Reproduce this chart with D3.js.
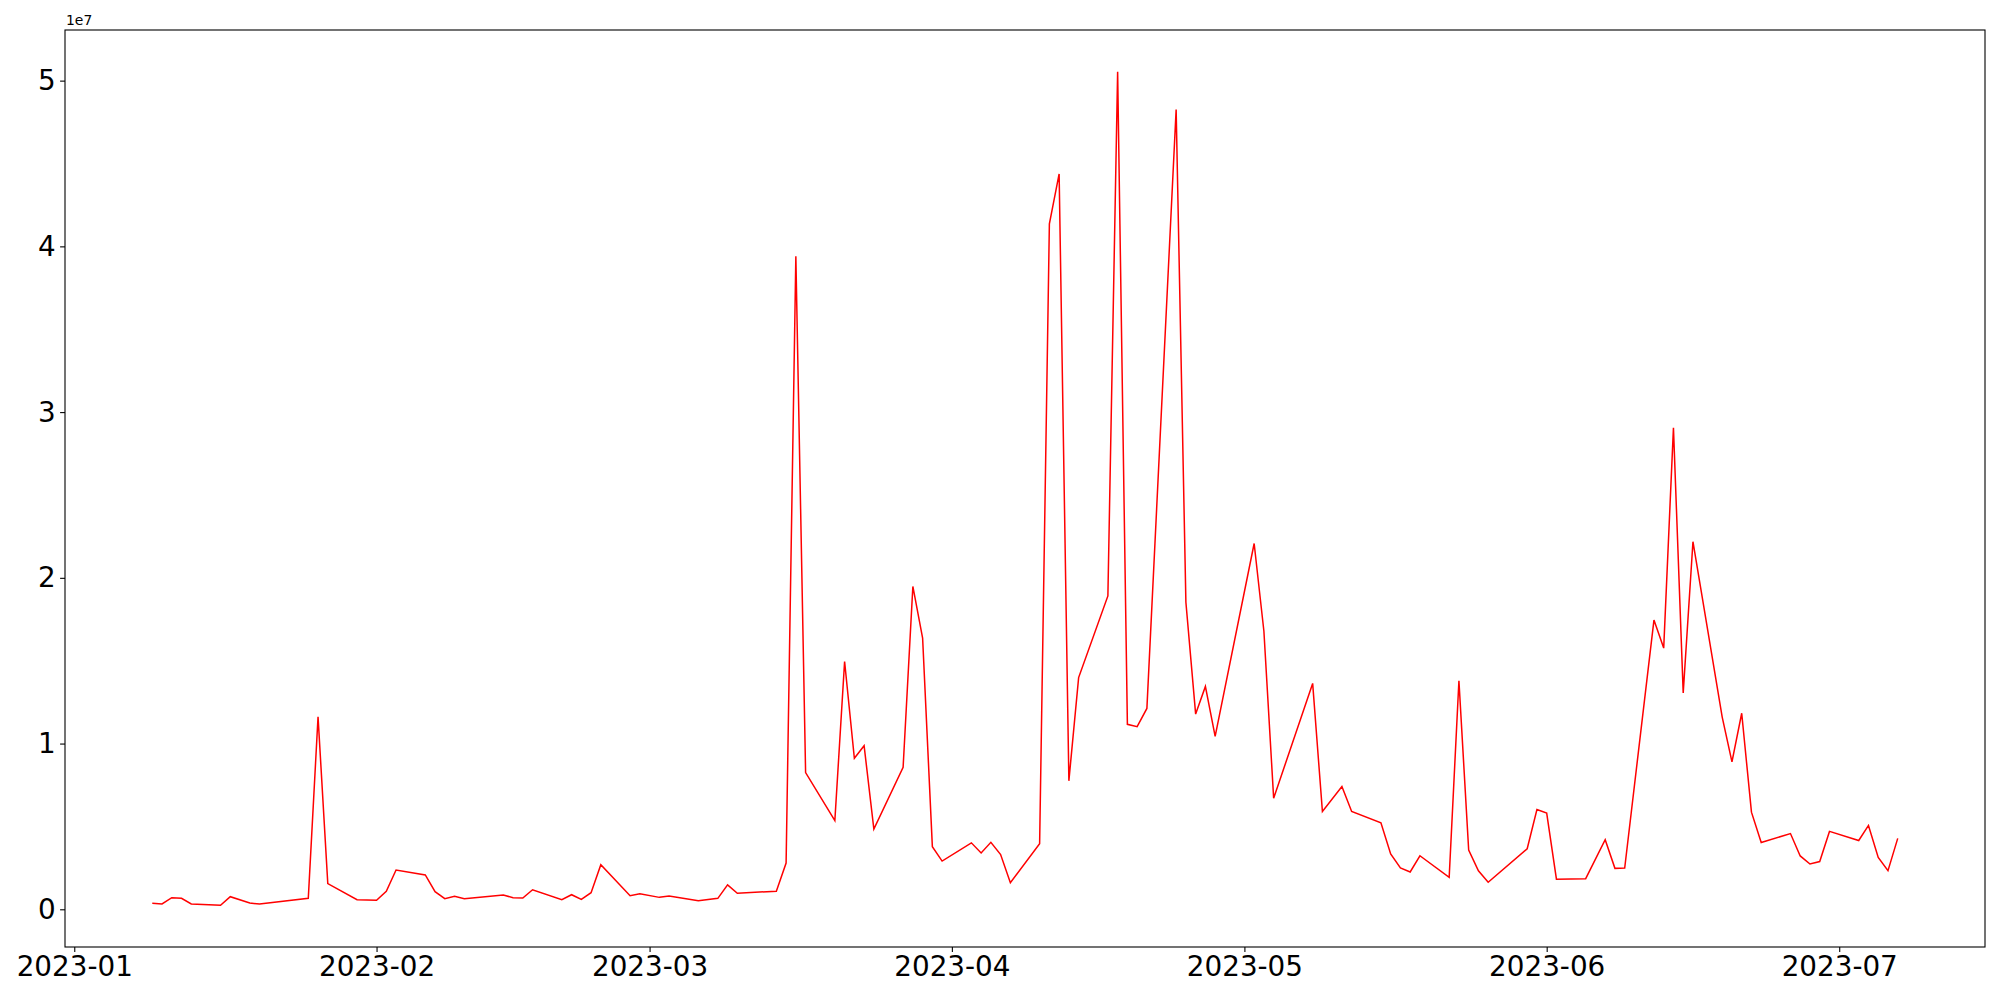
<!DOCTYPE html>
<html>
<head>
<meta charset="utf-8">
<script src="https://cdn.jsdelivr.net/npm/d3@7"></script>
<style>
  body { margin: 0; background: #fff; }
  svg { display: block; font-family: "DejaVu Sans", sans-serif; }
</style>
</head>
<body>
<div id="chart"></div>
<script>
// daily values, trading days only
const dates = [
  "2023-01-09","2023-01-10","2023-01-11","2023-01-12","2023-01-13","2023-01-16","2023-01-17","2023-01-19","2023-01-20",
  "2023-01-25","2023-01-26","2023-01-27","2023-01-30","2023-02-01","2023-02-02","2023-02-03","2023-02-06","2023-02-07",
  "2023-02-08","2023-02-09","2023-02-10","2023-02-14","2023-02-15","2023-02-16","2023-02-17","2023-02-20","2023-02-21",
  "2023-02-22","2023-02-23","2023-02-24","2023-02-27","2023-02-28","2023-03-02","2023-03-03","2023-03-06","2023-03-08",
  "2023-03-09","2023-03-10","2023-03-14","2023-03-15","2023-03-16","2023-03-17","2023-03-20","2023-03-21","2023-03-22",
  "2023-03-23","2023-03-24","2023-03-27","2023-03-28","2023-03-29","2023-03-30","2023-03-31","2023-04-03","2023-04-04",
  "2023-04-05","2023-04-06","2023-04-07","2023-04-10","2023-04-11","2023-04-12","2023-04-13","2023-04-14","2023-04-17",
  "2023-04-18","2023-04-19","2023-04-20","2023-04-21","2023-04-24","2023-04-25","2023-04-26","2023-04-27","2023-04-28",
  "2023-05-02","2023-05-03","2023-05-04","2023-05-08","2023-05-09","2023-05-11","2023-05-12","2023-05-15","2023-05-16",
  "2023-05-17","2023-05-18","2023-05-19","2023-05-22","2023-05-23","2023-05-24","2023-05-25","2023-05-26","2023-05-30",
  "2023-05-31","2023-06-01","2023-06-02","2023-06-05","2023-06-07","2023-06-08","2023-06-09","2023-06-12","2023-06-13",
  "2023-06-14","2023-06-15","2023-06-16","2023-06-19","2023-06-20","2023-06-21","2023-06-22","2023-06-23","2023-06-26",
  "2023-06-27","2023-06-28","2023-06-29","2023-06-30","2023-07-03","2023-07-04","2023-07-05","2023-07-06","2023-07-07"
];
const values = [
  360000, 320000, 700000, 660000, 320000, 240000, 760000, 380000, 320000,
  660000, 11620000, 1550000, 580000, 540000, 1090000, 2370000, 2070000, 1060000,
  640000, 780000, 640000, 860000, 700000, 680000, 1180000, 580000, 880000,
  600000, 1000000, 2690000, 820000, 940000, 720000, 800000, 520000, 660000,
  1470000, 970000, 1090000, 2790000, 39400000, 8250000, 5350000, 14950000, 9110000,
  9870000, 4840000, 8570000, 19480000, 16370000, 3780000, 2910000, 4010000, 3400000,
  4040000, 3300000, 1600000, 3960000, 41360000, 44370000, 7750000, 13980000, 18910000,
  50540000, 11160000, 11020000, 12120000, 48260000, 18530000, 11780000, 13450000, 10430000,
  22070000, 16780000, 6700000, 13630000, 5900000, 7410000, 5900000, 5220000, 3340000,
  2500000, 2250000, 3230000, 1930000, 13790000, 3570000, 2320000, 1630000, 3650000,
  6020000, 5800000, 1820000, 1850000, 4200000, 2470000, 2490000, 17450000, 15760000,
  29060000, 13060000, 22180000, 11600000, 8890000, 11830000, 5860000, 4030000, 4570000,
  3220000, 2730000, 2880000, 4700000, 4150000, 5060000, 3130000, 2330000, 4280000
];
const yTicks = [0, 1e7, 2e7, 3e7, 4e7, 5e7];
const yTickLabels = ["0", "1", "2", "3", "4", "5"];
const xTicks = ["2023-01-01","2023-02-01","2023-03-01","2023-04-01","2023-05-01","2023-06-01","2023-07-01"];
const xTickLabels = ["2023-01","2023-02","2023-03","2023-04","2023-05","2023-06","2023-07"];

// set the dimensions and margins of the graph
const margin = { top: 30, right: 15, bottom: 53, left: 65 },
    width = 2000 - margin.left - margin.right,
    height = 1000 - margin.top - margin.bottom;

const svg = d3.select("#chart")
    .append("svg")
    .attr("width", 2000)
    .attr("height", 1000)
    .append("g")
    .attr("transform", `translate(${margin.left}, ${margin.top})`);

const parse = d3.utcParse("%Y-%m-%d");
const data = dates.map((d, i) => ({ date: parse(d), value: values[i] }));

// matplotlib-like 5% padding on both axes
const xExt = d3.extent(data, d => d.date);
const xPad = (xExt[1] - xExt[0]) * 0.05;
const x = d3.scaleUtc()
    .domain([new Date(+xExt[0] - xPad), new Date(+xExt[1] + xPad)])
    .range([0, width]);

const yExt = d3.extent(data, d => d.value);
const yPad = (yExt[1] - yExt[0]) * 0.05;
const y = d3.scaleLinear()
    .domain([yExt[0] - yPad, yExt[1] + yPad])
    .range([height, 0]);

// axes
const xAxis = svg.append("g")
    .attr("transform", `translate(0, ${height})`)
    .call(d3.axisBottom(x)
        .tickValues(xTicks.map(parse))
        .tickFormat((d, i) => xTickLabels[i])
        .tickSize(4.9)
        .tickPadding(4.5));

const yAxis = svg.append("g")
    .call(d3.axisLeft(y)
        .tickValues(yTicks)
        .tickFormat((d, i) => yTickLabels[i])
        .tickSize(4.9)
        .tickPadding(4.5));

[xAxis, yAxis].forEach(g => {
    g.select(".domain").remove();
    g.selectAll(".tick line").attr("stroke", "#000").attr("stroke-width", 1.1);
    g.selectAll(".tick text")
        .attr("fill", "#000")
        .attr("font-size", "27.8px")
        .attr("font-family", "DejaVu Sans, sans-serif");
});

// the line
svg.append("path")
    .datum(data)
    .attr("fill", "none")
    .attr("stroke", "red")
    .attr("stroke-width", 1.5)
    .attr("stroke-linejoin", "miter")
    .attr("d", d3.line()
        .x(d => x(d.date))
        .y(d => y(d.value)));

// frame
svg.append("rect")
    .attr("x", 0)
    .attr("y", 0)
    .attr("width", width)
    .attr("height", height)
    .attr("fill", "none")
    .attr("stroke", "#000")
    .attr("stroke-width", 1.1);

// offset text
svg.append("text")
    .attr("x", 1)
    .attr("y", -5)
    .attr("font-size", "13.9px")
    .attr("fill", "#000")
    .text("1e7");
</script>
</body>
</html>
